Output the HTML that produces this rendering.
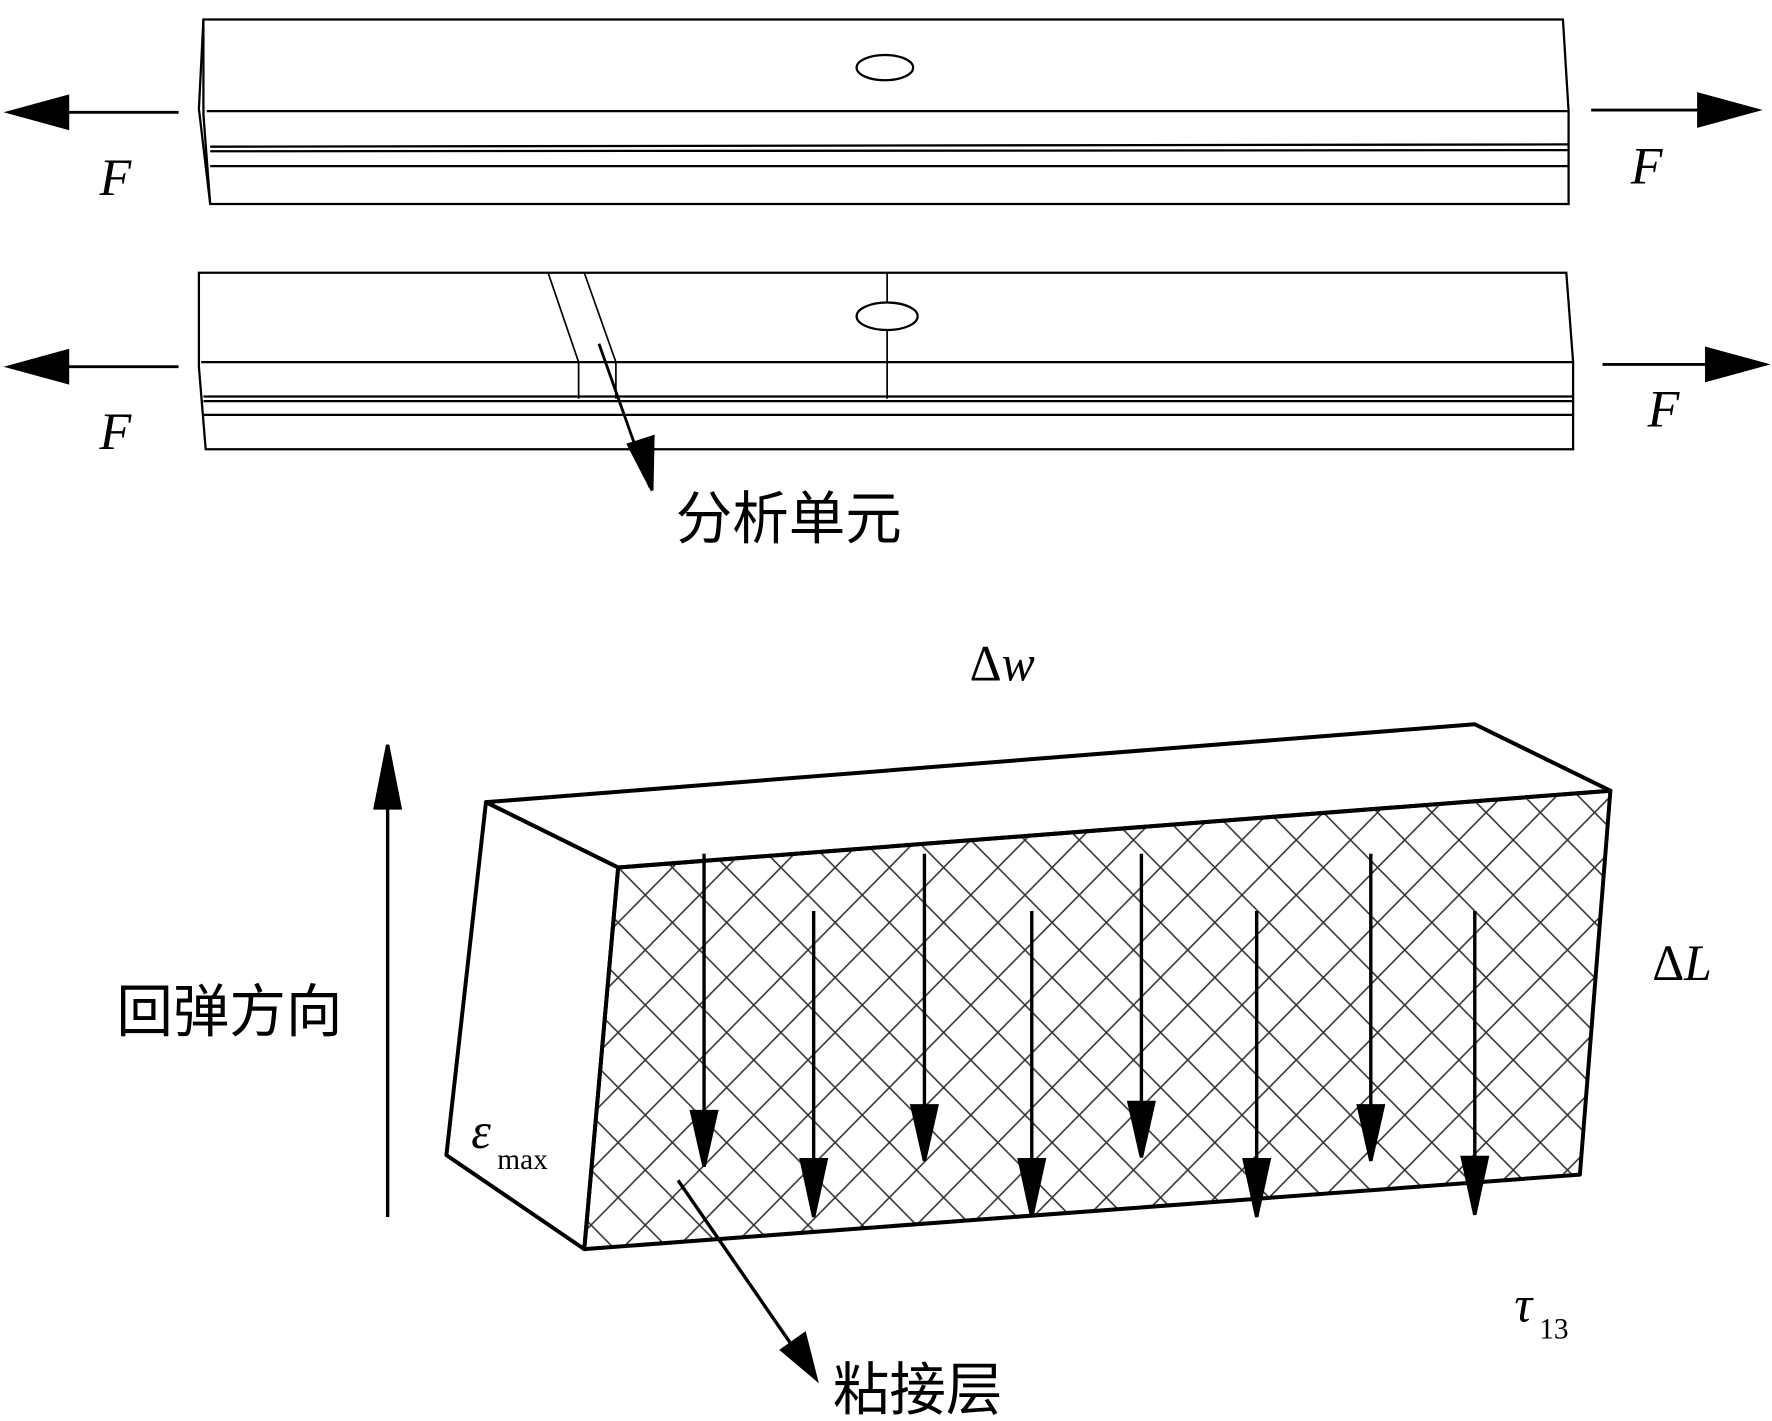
<!DOCTYPE html>
<html><head><meta charset="utf-8"><style>html,body{margin:0;padding:0;background:#fff}svg{display:block}</style></head>
<body>
<svg width="1772" height="1421" viewBox="0 0 1568 1240" preserveAspectRatio="none" xmlns="http://www.w3.org/2000/svg">
<defs>
<marker id="ah" markerWidth="10" markerHeight="8" refX="9" refY="4" orient="auto" markerUnits="userSpaceOnUse" viewBox="0 0 10 8"><path d="M0,0 L10,4 L0,8 z" fill="#000"/></marker>
<pattern id="hatch" width="48" height="48" patternUnits="userSpaceOnUse" patternTransform="translate(547,757)">
<path d="M0,0 L48,48 M48,0 L0,48 M-24,24 L24,72 M24,-24 L72,24 M-24,24 L24,-24 M24,72 L72,24" stroke="#333" stroke-width="1.4" fill="none"/>
</pattern>
<clipPath id="fc"><polygon points="547,757 1425,690 1398,1025 517,1090"/></clipPath>
</defs>
<g fill="none" stroke="#000" stroke-width="2">
<!-- top bar -->
<path d="M180,17 L1383,17 L1388,97 L1388,178 L186,178 L180,100 Z"/>
<path d="M183,97 L1388,97 M186,128 L1388,126 M186,132 L1388,131 M186,145 L1388,145"/>
<path d="M180,17 L176,95 L186,178"/>
<ellipse cx="783" cy="59" rx="25" ry="11"/>
<!-- second bar -->
<path d="M176,238 L1386,238 L1392,316 L1392,392 L182,392 L176,320 Z"/>
<path d="M178,316 L1392,316 M180,346 L1392,346 M180,350 L1392,350 M180,362 L1392,362"/>
<ellipse cx="785" cy="276" rx="27" ry="12"/>
<path d="M785,238 L785,264 M785,288 L785,348" stroke-width="1.5"/>
<path d="M485,238 L512,316 L512,348 M517,238 L545,316 L545,348" stroke-width="1.5"/>
</g>
<g stroke="#000" stroke-width="2.5" fill="#000">
<line x1="158" y1="98" x2="8" y2="98"/><polygon points="8,98 60,84 60,112"/>
<line x1="1408" y1="96" x2="1555" y2="96"/><polygon points="1555,96 1503,82 1503,110"/>
<line x1="158" y1="320" x2="8" y2="320"/><polygon points="8,320 60,306 60,334"/>
<line x1="1418" y1="318" x2="1562" y2="318"/><polygon points="1562,318 1510,304 1510,332"/>
<line x1="530" y1="300" x2="575" y2="425"/><polygon points="577,428 556,388 578,381"/>
</g>
<g font-family="Liberation Serif, serif" font-style="italic" font-size="46">
<text x="88" y="170">F</text><text x="1443" y="160">F</text>
<text x="88" y="392">F</text><text x="1458" y="372">F</text>
</g>
<text x="598" y="470" font-family="Liberation Sans, 'Noto Sans CJK SC', sans-serif" font-size="50">分析单元</text>
<!-- box -->
<rect x="500" y="680" width="940" height="420" fill="url(#hatch)" clip-path="url(#fc)"/>
<g fill="none" stroke="#000" stroke-width="3.5" stroke-linejoin="round">
<polygon points="430,700 1305,632 1425,690 547,757"/>
<polygon points="547,757 1425,690 1398,1025 517,1090"/>
<polygon points="430,700 547,757 517,1090 395,1008"/>
</g>
<g stroke="#000" stroke-width="3" fill="#000">
<line x1="623" y1="745" x2="623" y2="990"/><polygon points="612,970 634,970 623,1018"/>
<line x1="720" y1="795" x2="720" y2="1035"/><polygon points="709,1012 731,1012 720,1062"/>
<line x1="818" y1="745" x2="818" y2="990"/><polygon points="807,965 829,965 818,1013"/>
<line x1="913" y1="795" x2="913" y2="1035"/><polygon points="902,1012 924,1012 913,1062"/>
<line x1="1010" y1="745" x2="1010" y2="990"/><polygon points="999,962 1021,962 1010,1010"/>
<line x1="1112" y1="795" x2="1112" y2="1035"/><polygon points="1101,1012 1123,1012 1112,1062"/>
<line x1="1213" y1="745" x2="1213" y2="990"/><polygon points="1202,965 1224,965 1213,1013"/>
<line x1="1305" y1="795" x2="1305" y2="1035"/><polygon points="1294,1010 1316,1010 1305,1060"/>
<line x1="343" y1="1062" x2="343" y2="690"/><polygon points="332,705 354,705 343,650"/>
<line x1="600" y1="1030" x2="705" y2="1180"/><polygon points="722,1203 692,1178 712,1164"/>
</g>
<g font-family="Liberation Serif, serif" font-size="44">
<text x="858" y="594">Δ<tspan font-style="italic">w</tspan></text>
<text x="1462" y="855">Δ<tspan font-style="italic">L</tspan></text>
<text x="417" y="1002" font-style="italic">ε</text><text x="440" y="1020" font-size="26">max</text>
<text x="1340" y="1153" font-style="italic">τ</text><text x="1362" y="1168" font-size="26">13</text>
</g>
<g font-family="Liberation Sans, 'Noto Sans CJK SC', sans-serif" font-size="50">
<text x="103" y="900">回弹方向</text>
<text x="737" y="1230">粘接层</text>
</g>
</svg>
</body></html>
